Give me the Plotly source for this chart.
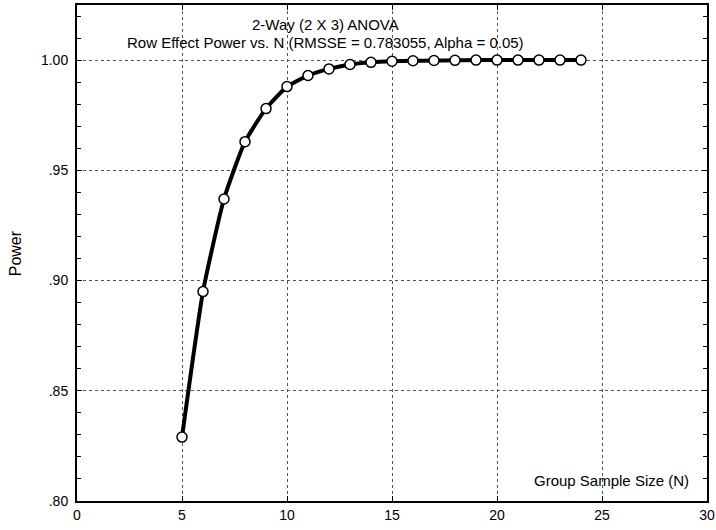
import plotly.graph_objects as go

# Data
group_n = [5, 6, 7, 8, 9, 10, 11, 12, 13, 14, 15, 16, 17, 18, 19, 20, 21, 22, 23, 24]
power = [0.829, 0.895, 0.937, 0.963, 0.978, 0.988, 0.993, 0.996, 0.998, 0.999,
         0.9995, 0.9997, 0.9998, 0.9999, 1.0, 1.0, 1.0, 1.0, 1.0, 1.0]

x_ticks = [0, 5, 10, 15, 20, 25, 30]
y_ticks = [0.80, 0.85, 0.90, 0.95, 1.00]
y_tick_labels = [".80", ".85", ".90", ".95", "1.00"]

title_line1 = "2-Way (2 X 3) ANOVA"
title_line2 = "Row Effect Power vs. N (RMSSE = 0.783055, Alpha = 0.05)"
x_title = "Group Sample Size (N)"
y_title = "Power"

FONT = "Liberation Sans, Arial, sans-serif"

fig = go.Figure()
fig.add_trace(go.Scatter(
    x=group_n, y=power, mode="lines+markers",
    line=dict(color="black", width=4, shape="spline", smoothing=0.5),
    marker=dict(size=10, color="white", line=dict(color="black", width=1.5)),
    showlegend=False, cliponaxis=False,
))

fig.update_layout(
    template="none",
    width=716, height=530,
    margin=dict(l=77, r=9, t=5, b=29, pad=0),
    paper_bgcolor="white", plot_bgcolor="white",
    font=dict(family=FONT, size=14, color="black"),
    xaxis=dict(
        range=[0, 30], tickvals=x_ticks, ticks="inside", ticklen=5, tickwidth=1,
        tickcolor="black", showline=True, linecolor="black", linewidth=2,
        mirror="ticks", showgrid=True, gridcolor="#555555", griddash="dot",
        gridwidth=1, zeroline=False, automargin=False, ticklabeloverflow="allow",
        tickfont=dict(size=14, family=FONT),
    ),
    yaxis=dict(
        range=[0.80, 1.025], tickvals=y_ticks, ticktext=y_tick_labels,
        ticks="inside", ticklen=5, tickwidth=1, tickcolor="black",
        showline=True, linecolor="black", linewidth=2, mirror="ticks",
        showgrid=True, gridcolor="#555555", griddash="dot", gridwidth=1,
        zeroline=False, automargin=False, ticklabeloverflow="allow",
        ticklabelstandoff=4,
        tickfont=dict(size=14, family=FONT),
        minor=dict(dtick=0.01, tick0=0.8, ticks="inside", ticklen=4,
                   tickcolor="black", showgrid=False),
    ),
    annotations=[
        dict(text=title_line1, xref="paper", yref="paper", x=0.394, y=0.9615,
             xanchor="center", yanchor="middle",
             showarrow=False, font=dict(size=15, family=FONT)),
        dict(text=title_line2, xref="paper", yref="paper", x=0.394, y=0.925,
             xanchor="center", yanchor="middle",
             showarrow=False, font=dict(size=15, family=FONT)),
        dict(text=x_title, xref="paper", yref="paper", x=0.849, y=0.0405,
             xanchor="center", yanchor="middle",
             showarrow=False, font=dict(size=15, family=FONT)),
        dict(text=y_title, xref="paper", yref="paper", x=-0.098, y=0.5,
             xanchor="center", yanchor="middle", textangle=-90,
             showarrow=False, font=dict(size=16, family=FONT)),
    ],
)

fig.write_html("out.html", config={"displayModeBar": False})

# remove the default page margin so the 716x530 figure fills the window exactly
with open("out.html", "r", encoding="utf-8") as f:
    html = f.read()
html = html.replace("<body>", '<body style="margin:0;padding:0;overflow:hidden">', 1)
with open("out.html", "w", encoding="utf-8") as f:
    f.write(html)
